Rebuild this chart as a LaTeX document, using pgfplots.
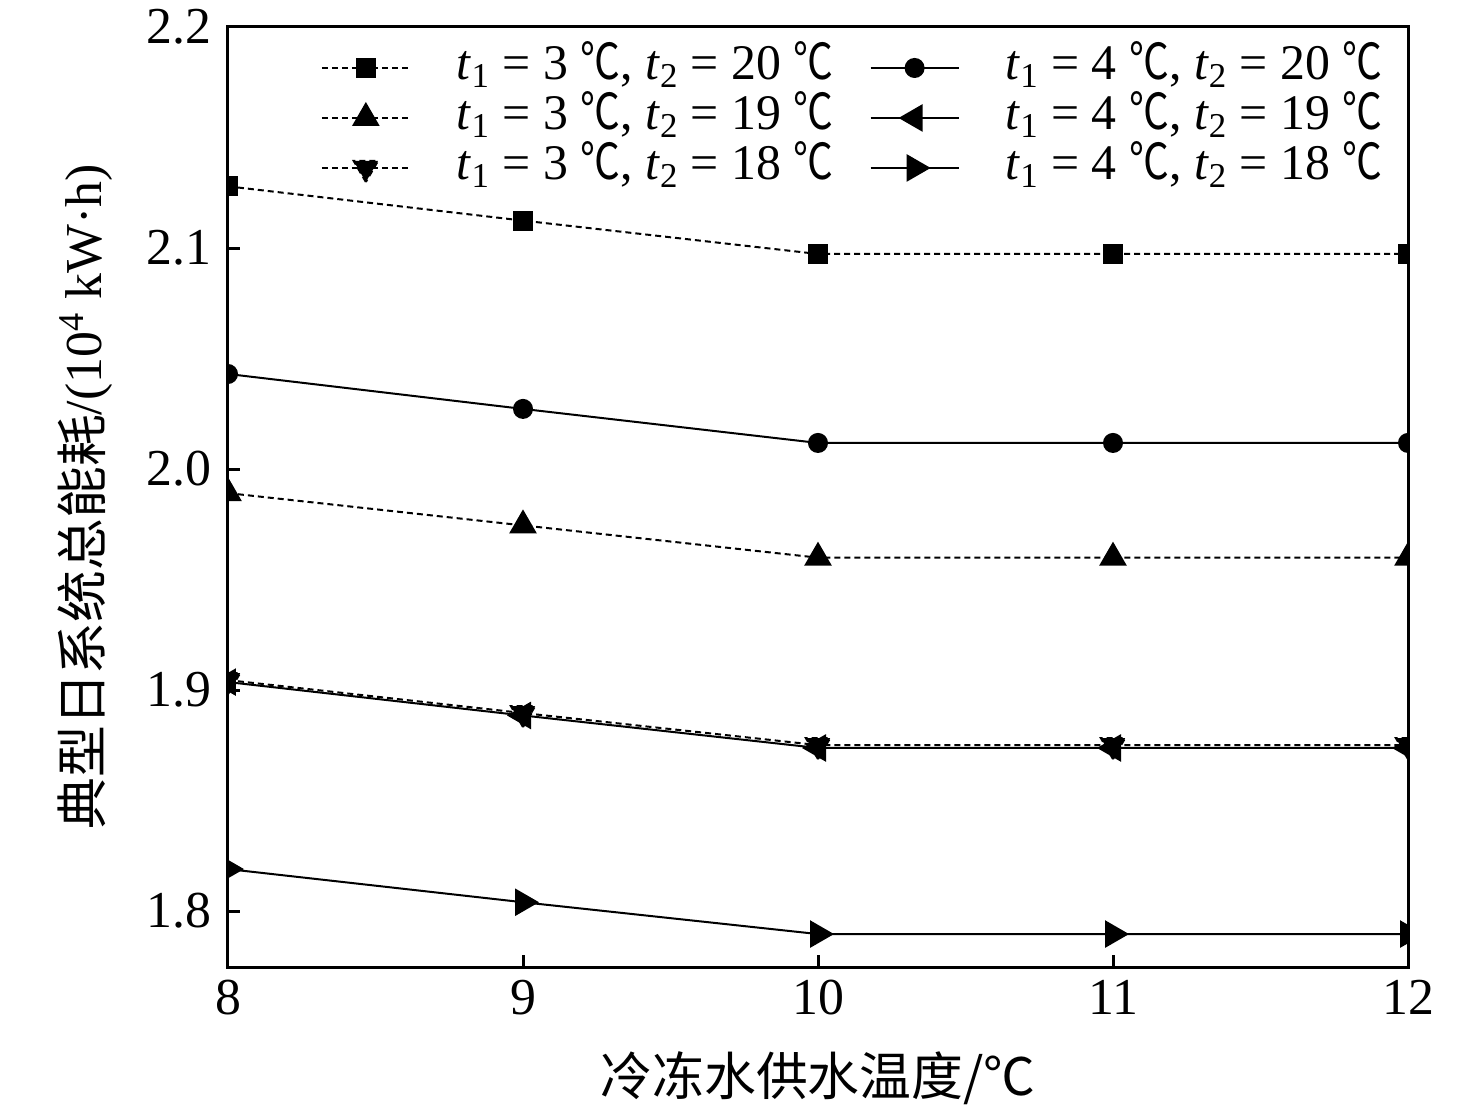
\documentclass[border=0pt]{standalone}
\usepackage{fontspec}
\usepackage{graphicx}
\setmainfont{Liberation Serif}
\newfontfamily\cjk{Noto Sans CJK SC}
\usepackage{pgfplots}
\usetikzlibrary{calc}
\pgfplotsset{compat=1.18}
\newcommand{\dC}{\scalebox{0.8}[1]{\cjk ℃}}
\newcommand{\ts}[1]{\textit{t}\textsubscript{#1}}
\begin{document}
\begin{tikzpicture}
\begin{axis}[
  scale only axis,
  width=590bp, height=470bp,
  xmin=8, xmax=12, ymin=1.7747, ymax=2.2,
  xtick={8,9,10,11,12},
  ytick={1.8,1.9,2.0,2.1,2.2},
  axis line style={line width=1.5bp},
  tick style={line width=1.5bp, black},
  tick align=inside,
  major tick length=6bp,
  xtick pos=bottom, ytick pos=left,
  clip marker paths=true,
  font=\fontsize{26}{30}\selectfont,
  /pgf/number format/assume math mode=true,
  yticklabel style={xshift=-5bp, /pgf/number format/.cd, fixed, fixed zerofill, precision=1},
  xticklabel style={yshift=-3bp, /pgf/number format/.cd, fixed},
  every axis y label/.style={at={(axis description cs:0,0.5)}, xshift=-71.5bp, rotate=90, anchor=center},
  every axis x label/.style={at={(axis description cs:0.5,0)}, yshift=-55.5bp, anchor=center},
  xlabel={\cjk 冷冻水供水温度/℃},
  ylabel={{\cjk 典型日系统总能耗}/(10\textsuperscript{4} kW·h)},
  every axis plot/.append style={line width=1bp, black, mark options={solid, fill=black},
    legend image code/.code={\draw[mark repeat=2, mark phase=2] plot coordinates {(0bp,0bp) (22bp,0bp) (44bp,0bp)};}},
  legend columns=2,
  legend cell align=left,
  legend style={draw=none, fill=none, inner sep=0pt, outer sep=0pt,
    at={(rel axis cs:0.98,0.983)}, anchor=north east,
    font=\fontsize{25}{30}\selectfont,
    nodes={inner sep=1bp, text height=17.5bp, text depth=5.5bp},
    row sep=0bp,
    /tikz/every odd column/.append style={column sep=22bp},
    /tikz/every even column/.append style={column sep=17bp}},
]
\addplot[dash pattern=on 3bp off 2bp, mark=square*, mark size=4.5bp] coordinates {(8,2.1279) (9,2.1124) (10,2.0973) (11,2.0973) (12,2.0973)};
\addlegendentry{\ts{1} = 3 \dC, \ts{2} = 20 \dC}
\addplot[solid, mark=*, mark size=4.5bp] coordinates {(8,2.0430) (9,2.0272) (10,2.0118) (11,2.0118) (12,2.0118)};
\addlegendentry{\ts{1} = 4 \dC, \ts{2} = 20 \dC}
\addplot[dash pattern=on 3bp off 2bp, mark=triangle*, mark size=7bp] coordinates {(8,1.9891) (9,1.9745) (10,1.9599) (11,1.9599) (12,1.9599)};
\addlegendentry{\ts{1} = 3 \dC, \ts{2} = 19 \dC}
\addplot[solid, mark=triangle*, mark size=7bp, mark options={rotate=90}] coordinates {(8,1.9036) (9,1.8885) (10,1.8738) (11,1.8738) (12,1.8738)};
\addlegendentry{\ts{1} = 4 \dC, \ts{2} = 19 \dC}
\addplot[dash pattern=on 3bp off 2bp, mark=triangle*, mark size=7bp, mark options={rotate=180}] coordinates {(8,1.9045) (9,1.8896) (10,1.8751) (11,1.8751) (12,1.8751)};
\addlegendentry{\ts{1} = 3 \dC, \ts{2} = 18 \dC}
\addplot[solid, mark=triangle*, mark size=7bp, mark options={rotate=-90}] coordinates {(8,1.8190) (9,1.8040) (10,1.7896) (11,1.7896) (12,1.7896)};
\addlegendentry{\ts{1} = 4 \dC, \ts{2} = 18 \dC}
\coordinate (sw) at (rel axis cs:0,0);
\coordinate (ne) at (rel axis cs:1,1);
\end{axis}
\pgfresetboundingbox
\path ($(sw)+(-114bp,-74bp)$) rectangle ($(ne)+(34bp,13.5bp)$);
\end{tikzpicture}
\end{document}
